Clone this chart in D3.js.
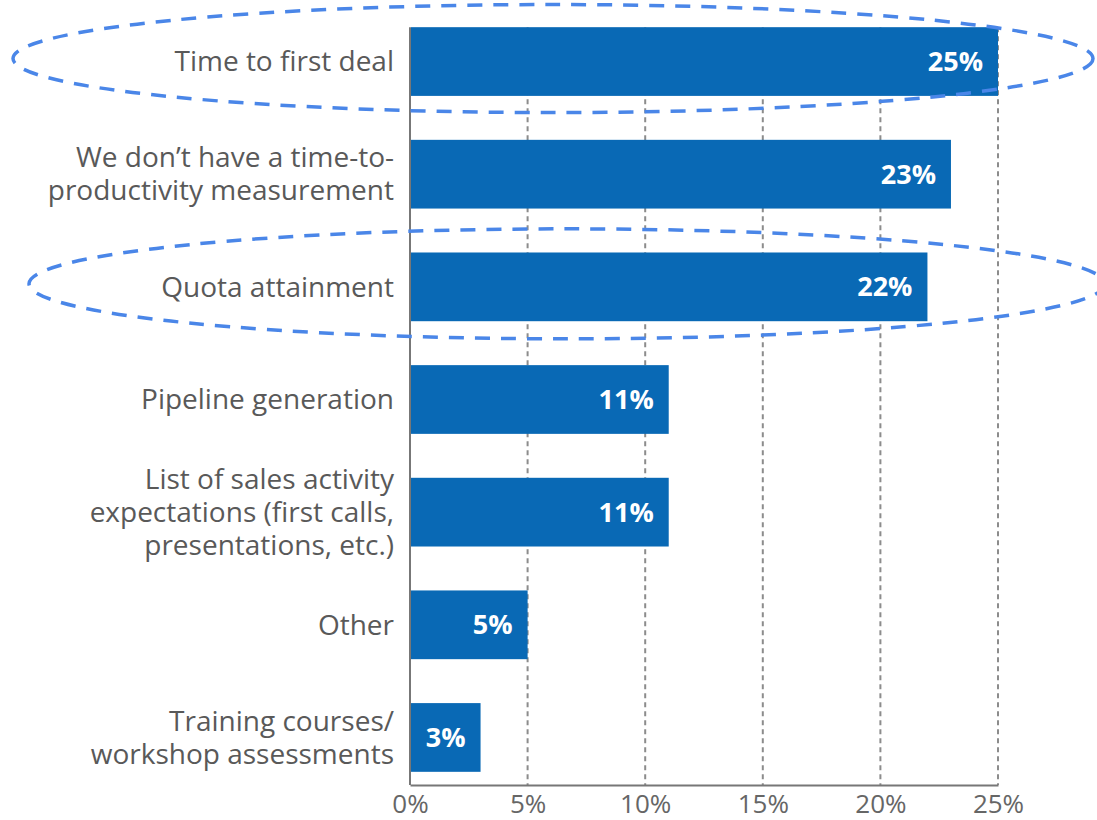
<!DOCTYPE html>
<html>
<head>
<meta charset="utf-8">
<script src="https://cdn.jsdelivr.net/npm/d3@7"></script>
<style>
  body { margin: 0; background: #fff; }
  svg { display: block; }
  text { font-family: "Open Sans", "Noto Sans", sans-serif; }
</style>
</head>
<body>
<div id="canvas"></div>
<script>
// data
var categories = [
  ["Time to first deal"],
  ["We don\u2019t have a time-to-", "productivity measurement"],
  ["Quota attainment"],
  ["Pipeline generation"],
  ["List of sales activity", "expectations (first calls,", "presentations, etc.)"],
  ["Other"],
  ["Training courses/", "workshop assessments"]
];
var values = [25, 23, 22, 11, 11, 5, 3];
var ticks = [0, 5, 10, 15, 20, 25];
var highlighted = [0, 2]; // rows circled with dashed ellipses

var W = 1097, H = 820;
var m = {t:14, r:99, b:35, l:410};
var w = W - m.l - m.r,
    h = H - m.t - m.b;

var svg = d3.select('#canvas')
  .append('svg')
  .attr('width', W)
  .attr('height', H);

var plot = svg.append('g')
  .attr('transform', 'translate(' + m.l + ',' + m.t + ')');

var idx = d3.range(values.length);

var x = d3.scaleLinear().domain([0, 25]).range([0, w]);
var y = d3.scaleBand().domain(idx).range([0, h])
  .paddingInner(0.39).paddingOuter(0.117);

// dashed gridlines
plot.selectAll('.grid')
  .data(ticks.slice(1))
  .enter().append('line')
  .attr('class', 'grid')
  .attr('x1', function(d){ return x(d); })
  .attr('x2', function(d){ return x(d); })
  .attr('y1', y(0))
  .attr('y2', h)
  .attr('stroke', '#8c8c8c')
  .attr('stroke-width', 2)
  .attr('stroke-dasharray', '5,4');

// bottom axis
var axisX = d3.axisBottom(x)
  .tickValues(ticks)
  .tickFormat(function(d){ return d + '%'; })
  .tickSize(0);

var gx = plot.append('g')
  .attr('transform', 'translate(0,' + h + ')')
  .call(axisX);
gx.select('.domain').attr('stroke', '#777').attr('stroke-width', 2);
gx.selectAll('text')
  .attr('y', 28)
  .attr('dy', 0)
  .attr('fill', '#666')
  .style('font-size', '26px');

// left axis line
plot.append('line')
  .attr('x1', 0).attr('x2', 0)
  .attr('y1', y(0)).attr('y2', h)
  .attr('stroke', '#777')
  .attr('stroke-width', 2);

// bars
plot.selectAll('rect.bar')
  .data(values)
  .enter().append('rect')
  .attr('class', 'bar')
  .attr('x', x(0) + 1)
  .attr('y', function(d, i){ return y(i); })
  .attr('width', function(d){ return x(d) - x(0) - 1; })
  .attr('height', y.bandwidth())
  .attr('fill', '#0969b5');

// value labels
plot.selectAll('text.val')
  .data(values)
  .enter().append('text')
  .attr('class', 'val')
  .attr('x', function(d){ return x(d) - 15; })
  .attr('y', function(d, i){ return y(i) + y.bandwidth() / 2; })
  .attr('dy', '0.35em')
  .attr('text-anchor', 'end')
  .attr('fill', '#fff')
  .style('font-size', '27px')
  .style('font-weight', 'bold')
  .text(function(d){ return d + '%'; });

// category labels
var lineH = 33;
var labels = plot.selectAll('text.cat')
  .data(categories)
  .enter().append('text')
  .attr('class', 'cat')
  .attr('x', -16)
  .attr('y', function(d, i){ return y(i) + y.bandwidth() / 2 - (d.length - 1) * lineH / 2; })
  .attr('text-anchor', 'end')
  .attr('fill', '#595959')
  .style('font-size', '28px');

labels.selectAll('tspan')
  .data(function(d){ return d; })
  .enter().append('tspan')
  .attr('x', -16)
  .attr('dy', function(d, j){ return j === 0 ? '0.35em' : lineH; })
  .text(function(d){ return d; });

// dashed ellipses around highlighted rows
var ell = [
  {row: 0, l: 13, r: 1093, ry: 54},
  {row: 2, l: 29, r: 1105, ry: 55}
];
svg.selectAll('ellipse')
  .data(ell)
  .enter().append('ellipse')
  .attr('cx', function(d){ return (d.l + d.r) / 2; })
  .attr('cy', function(d){ return m.t + y(d.row) + y.bandwidth() / 2 - 3; })
  .attr('rx', function(d){ return (d.r - d.l) / 2; })
  .attr('ry', function(d){ return d.ry; })
  .attr('fill', 'none')
  .attr('stroke', '#4a86e8')
  .attr('stroke-width', 3.5)
  .attr('stroke-dasharray', '15,11');
</script>
</body>
</html>
